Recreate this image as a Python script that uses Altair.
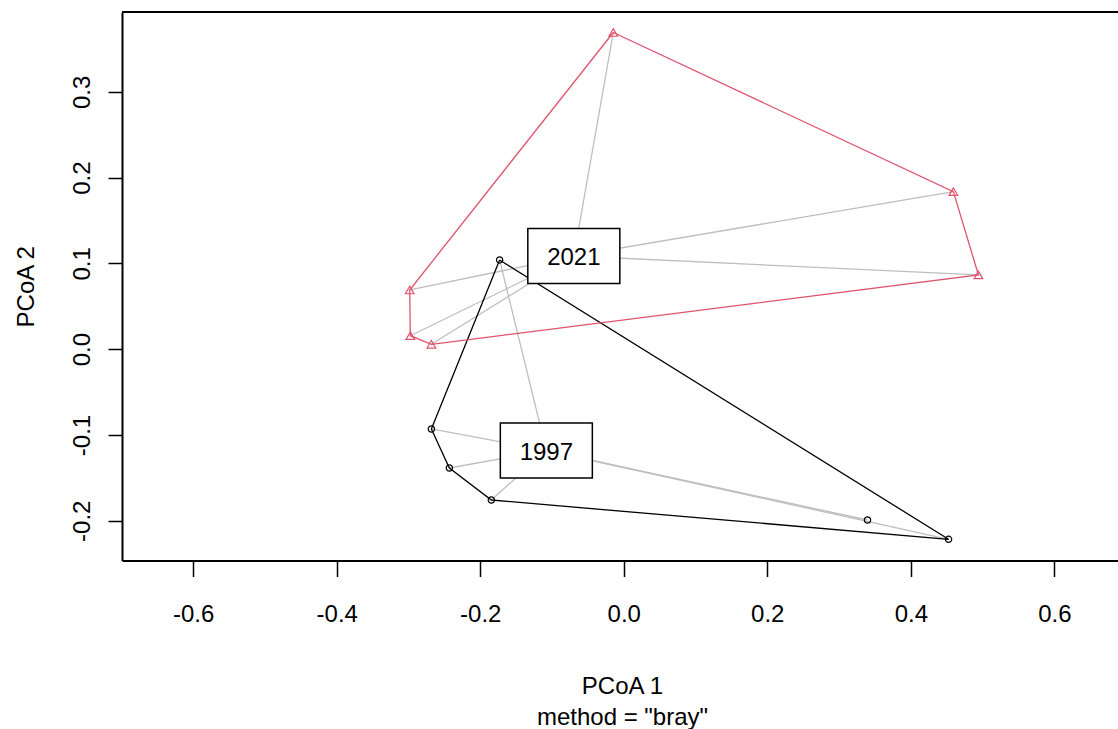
import altair as alt
import pandas as pd

# ---- data (PCoA scores, betadisper plot) ----
g2021_x = [-0.0146, 0.4593, 0.4942, -0.2983, -0.2974, -0.2681]
g2021_y = [0.3691, 0.1836, 0.0865, 0.0690, 0.0157, 0.0057]
g1997_x = [-0.1730, -0.2681, -0.2430, -0.1845, 0.3396, 0.4526]
g1997_y = [0.1040, -0.0930, -0.1385, -0.1758, -0.1991, -0.2216]
centroid_labels = ["1997", "2021"]
centroid_x = [-0.1079, -0.0696]
centroid_y = [-0.1181, 0.1086]
hull_2021 = [0, 1, 2, 5, 4, 3, 0]
hull_1997 = [0, 5, 3, 2, 1, 0]
x_ticks = [-0.6, -0.4, -0.2, 0.0, 0.2, 0.4, 0.6]
y_ticks = [-0.2, -0.1, 0.0, 0.1, 0.2, 0.3]

RED = "#DF536B"
GREY = "#BEBEBE"
FONT = "Liberation Sans"
W, H = 996, 548.5

pts = pd.DataFrame({
    "x": g1997_x + g2021_x,
    "y": g1997_y + g2021_y,
    "group": ["1997"] * len(g1997_x) + ["2021"] * len(g2021_x),
})
cmap = dict(zip(centroid_labels, zip(centroid_x, centroid_y)))
pts["cx"] = [cmap[g][0] for g in pts["group"]]
pts["cy"] = [cmap[g][1] for g in pts["group"]]

hull_rows = []
for i, k in enumerate(hull_1997):
    hull_rows.append({"group": "1997", "o": i, "x": g1997_x[k], "y": g1997_y[k], "c": "black"})
for i, k in enumerate(hull_2021):
    hull_rows.append({"group": "2021", "o": i, "x": g2021_x[k], "y": g2021_y[k], "c": RED})
hull = pd.DataFrame(hull_rows)

cent = pd.DataFrame({"label": centroid_labels, "x": centroid_x, "y": centroid_y})

minus_fix = "replace(datum.label, '\u2212', '-')"

xscale = alt.Scale(domain=[-0.6992, 0.6887], nice=False, zero=False)
yscale = alt.Scale(domain=[-0.2463, 0.3930], nice=False, zero=False)

xaxis = alt.Axis(
    values=x_ticks, format=".1f", labelExpr=minus_fix, grid=False,
    tickSize=16, tickWidth=1.5, tickColor="black",
    domainColor="black", domainWidth=2,
    labelFont=FONT, labelFontSize=24, labelColor="black",
    labelPadding=45, labelBaseline="alphabetic",
    labelOverlap=False, labelFlush=False,
    title=["PCoA 1", 'method = "bray"'], titleFont=FONT, titleFontSize=24,
    titleFontWeight="normal", titleColor="black",
    titleX=500, titleY=132.5, titleAlign="center", titleBaseline="alphabetic",
    titleLineHeight=31,
)
yaxis = alt.Axis(
    values=y_ticks, format=".1f", labelExpr=minus_fix, grid=False,
    tickSize=14, tickWidth=1.5, tickColor="black",
    domainColor="black", domainWidth=2,
    labelFont=FONT, labelFontSize=24, labelColor="black",
    labelAngle=270, labelAlign="center", labelBaseline="alphabetic",
    labelPadding=19, labelOverlap=False, labelFlush=False,
    title="PCoA 2", titleFont=FONT, titleFontSize=24,
    titleFontWeight="normal", titleColor="black",
    titleAngle=270, titleX=-89, titleY=H / 2, titleAlign="center",
    titleBaseline="alphabetic",
)

X = alt.X("x:Q", scale=xscale, axis=xaxis)
Y = alt.Y("y:Q", scale=yscale, axis=yaxis)

segments = alt.Chart(pts).mark_rule(color=GREY, strokeWidth=1.3).encode(
    x=X, y=Y, x2="cx:Q", y2="cy:Q"
)

hulls = alt.Chart(hull).mark_line(strokeWidth=1.3).encode(
    x=alt.X("x:Q", scale=xscale), y=alt.Y("y:Q", scale=yscale),
    order="o:Q", detail="group:N",
    color=alt.Color("c:N", scale=None),
)

circles = alt.Chart(pts[pts["group"] == "1997"]).mark_point(
    shape="circle", size=40, filled=False, color="black", strokeWidth=1.2, opacity=1
).encode(x=alt.X("x:Q", scale=xscale), y=alt.Y("y:Q", scale=yscale))

triangles = alt.Chart(pts[pts["group"] == "2021"]).mark_point(
    shape="triangle-up", size=75, filled=False, color=RED, strokeWidth=1.2, opacity=1
).encode(x=alt.X("x:Q", scale=xscale), y=alt.Y("y:Q", scale=yscale))

top_border = alt.Chart(pts).mark_rule(color="black", strokeWidth=2).encode(
    x=alt.value(0), x2=alt.value(W), y=alt.value(0)
)

boxes = alt.Chart(cent).mark_point(
    shape="M-1,-0.598L1,-0.598L1,0.598L-1,0.598Z", size=92 * 92,
    filled=True, fill="white", stroke="black", strokeWidth=1.5, opacity=1,
).encode(x=alt.X("x:Q", scale=xscale), y=alt.Y("y:Q", scale=yscale))

labels = alt.Chart(cent).mark_text(
    font=FONT, fontSize=24, color="black", align="center", baseline="middle", dy=2
).encode(x=alt.X("x:Q", scale=xscale), y=alt.Y("y:Q", scale=yscale), text="label:N")

chart = alt.layer(
    segments, hulls, circles, triangles, top_border, boxes, labels
).properties(
    width=W, height=H,
    autosize=alt.AutoSizeParams(type="none"),
    padding={"left": 122, "top": 12, "right": 0, "bottom": 168.5},
    background="white",
).configure_view(stroke=None)

chart.save("out.html", embed_options={"renderer": "svg", "actions": False})
